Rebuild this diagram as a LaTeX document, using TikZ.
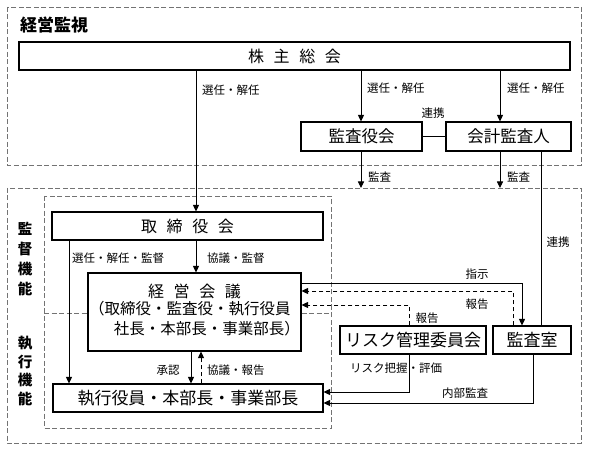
\documentclass[tikz,border=0pt]{standalone}
\usepackage{fontspec}
\setmainfont{Noto Sans CJK JP}
\usetikzlibrary{arrows.meta}
\begin{document}
\begin{tikzpicture}[x=1pt,y=-1pt,
  box/.style={draw, line width=1.1pt, minimum height=28pt, inner sep=0pt, fill=white, font=\fontsize{16}{18}\selectfont},
  lab/.style={font=\fontsize{11.5}{12}\selectfont, inner sep=0pt},
  arr/.style={-{Triangle[length=6.5pt,width=6pt]}, line width=0.9pt},
  darr/.style={arr, dash pattern=on 4pt off 3pt},
  plain/.style={line width=0.9pt},
  grp/.style={draw=black!55, line width=0.9pt, dash pattern=on 5pt off 2.5pt},
  side/.style={font=\bfseries\fontsize{14.5}{20}\selectfont, align=center, inner sep=0pt}]
\path[use as bounding box, fill=white] (0,0) rectangle (595,449);

% groups
\draw[grp] (7,7) rectangle (581,165);
\draw[grp] (7,188) rectangle (581,443);
\draw[grp] (44,196) rectangle (331,428);

% titles
\node[side, anchor=west, font=\bfseries\fontsize{17}{18}\selectfont] (title) at (20,25) {経営監視};
\node[side] (kantoku) at (25,259) {監\\督\\機\\能};
\node[side, font=\bfseries\fontsize{14.5}{18.5}\selectfont] (shikkouf) at (25,371) {執\\行\\機\\能};

% boxes
\node[box, minimum width=551pt] (kabu) at (294.5,56) {株\hspace{0.6em}主\hspace{0.6em}総\hspace{0.6em}会};
\node[box, minimum width=121pt, minimum height=29pt, font=\fontsize{16.5}{18}\selectfont] (kansayaku) at (361.5,136.5) {監査役会};
\node[box, minimum width=125pt, minimum height=29pt, font=\fontsize{16.5}{18}\selectfont] (kaikei) at (508.5,136.5) {会計監査人};
\node[box, minimum width=271pt] (tori) at (187.5,226) {取\hspace{0.6em}締\hspace{0.6em}役\hspace{0.6em}会};
\node[box, minimum width=213pt, minimum height=78pt, align=center] (keiei) at (194.5,312)
  {経\hspace{0.6em}営\hspace{0.6em}会\hspace{0.6em}議\\[1pt]
   {\fontsize{15.5}{20}\selectfont\begin{tabular}{@{}l@{}}（取締役・監査役・執行役員\\\hspace{1.6em}社長・本部長・事業部長）\end{tabular}}};
\node[box, minimum width=270pt, font=\fontsize{17}{18}\selectfont] (shikkou) at (188,398) {執行役員・本部長・事業部長};
\node[box, minimum width=146pt, font=\fontsize{17}{18}\selectfont] (risk) at (413,340) {リスク管理委員会};
\node[box, minimum width=78pt, font=\fontsize{17}{18}\selectfont] (shitsu) at (532,340) {監査室};

% divider of inner group
\coordinate (dv1) at (44,313);
\coordinate (dv2) at (331,313);
\draw[grp] (dv1) -- (keiei.west |- dv1);
\draw[grp] (keiei.east |- dv2) -- (dv2);

% helper coordinates
\coordinate (x196) at (196,0);
\coordinate (x361) at (361,188);
\coordinate (x500) at (500,188);
\coordinate (x541) at (541,0);
\coordinate (x69) at (69,0);
\coordinate (x191) at (191,0);
\coordinate (x201) at (201,0);
\coordinate (j1) at (522,283);
\coordinate (j2) at (513,291);
\coordinate (j3) at (409,305);
\coordinate (j4) at (409,392);
\coordinate (j5) at (533,403);

% connectors
\draw[arr] (kabu.south -| x196) -- (tori.north -| x196);
\draw[arr] (kabu.south -| x361) -- (kansayaku.north -| x361);
\draw[arr] (kabu.south -| x500) -- (kaikei.north -| x500);
\draw[plain] (kansayaku.east) -- (kaikei.west);
\draw[arr] (kansayaku.south -| x361) -- (x361);
\draw[arr] (kaikei.south -| x500) -- (x500);
\draw[plain] (kaikei.south -| x541) -- (shitsu.north -| x541);
\draw[arr] (tori.south -| x196) -- (keiei.north -| x196);
\draw[arr] (tori.south -| x69) -- (shikkou.north -| x69);
\draw[arr] (keiei.south -| x191) -- (shikkou.north -| x191);
\draw[darr] (shikkou.north -| x201) -- (keiei.south -| x201);
\draw[arr] (keiei.east |- j1) -| (shitsu.north -| j1);
\draw[darr] (shitsu.north -| j2) |- (keiei.east |- j2);
\draw[darr] (risk.north -| j3) |- (keiei.east |- j3);
\draw[arr] (risk.south -| j4) |- (shikkou.east |- j4);
\draw[arr] (shitsu.south -| j5) |- (shikkou.east |- j5);

% labels
\node[lab, anchor=west] (l1) at (202,90) {選任・解任};
\node[lab, anchor=west] (l2) at (367,88) {選任・解任};
\node[lab, anchor=west] (l3) at (507,88) {選任・解任};
\node[lab] (l4) at (433,113) {連携};
\node[lab, anchor=west] (l5) at (368,177) {監査};
\node[lab, anchor=west] (l6) at (507,177) {監査};
\node[lab] (l7) at (558,242) {連携};
\node[lab, anchor=west] (l8) at (72,258) {選任・解任・監督};
\node[lab, anchor=west] (l9) at (207,258) {協議・監督};
\node[lab] (l10) at (477,274) {指示};
\node[lab] (l11) at (477,304) {報告};
\node[lab] (l12) at (427,318) {報告};
\node[lab] (l13) at (396,368) {リスク把握・評価};
\node[lab] (l14) at (465,393) {内部監査};
\node[lab] (l15) at (168,370) {承認};
\node[lab, anchor=west] (l16) at (207,370) {協議・報告};
\end{tikzpicture}
\end{document}
